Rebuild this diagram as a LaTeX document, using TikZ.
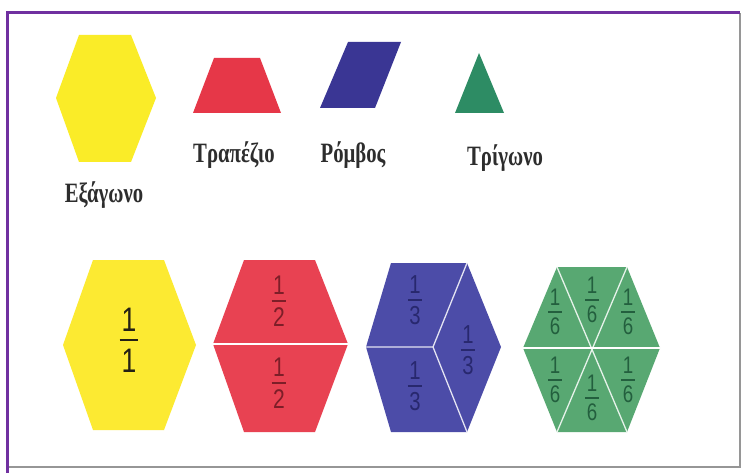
\documentclass[tikz,border=0pt]{standalone}
\usepackage{fontspec}
\usepackage{graphicx}
\setmainfont{Liberation Serif}
\newfontfamily\digitfont{Liberation Sans}
\definecolor{framepurple}{RGB}{112,48,160}
\definecolor{framegrey}{RGB}{150,150,150}
\definecolor{ytop}{RGB}{250,236,40}
\definecolor{rtop}{RGB}{230,55,72}
\definecolor{btop}{RGB}{58,54,148}
\definecolor{gtop}{RGB}{45,140,100}
\definecolor{ybot}{RGB}{252,234,50}
\definecolor{rbot}{RGB}{232,66,82}
\definecolor{bbot}{RGB}{76,76,168}
\definecolor{gbot}{RGB}{88,168,114}
\definecolor{ytxt}{RGB}{35,32,20}
\definecolor{rtxt}{RGB}{125,30,40}
\definecolor{btxt}{RGB}{40,40,110}
\definecolor{gtxt}{RGB}{35,95,62}
\definecolor{labeltxt}{RGB}{45,45,45}
\tikzset{
  digit/.style={inner sep=0pt, font=\digitfont\fontsize{20}{20}\selectfont},
  shapelabel/.style={anchor=base, inner sep=0pt, text=labeltxt,
    font=\bfseries\fontsize{28}{28}\selectfont},
  seam/.style={white, line width=1.3pt},
}
\newcommand{\fr}[6]{%
  \begin{scope}[shift={(#2,#3)}, scale=#4, xscale=0.78, transform shape]
    \node[digit, text=#6] (#1n) at (0,12) {1};
    \node[digit, text=#6] (#1d) at (0,-12) {#5};
    \draw[#6, line width=#4*1.5pt] (-7,0) -- (7,0);
  \end{scope}}
\newcommand{\lbl}[4]{\node[shapelabel] (#1) at (#2,#3) {\scalebox{0.74}[1]{#4}};}
\begin{document}
\begin{tikzpicture}[x=1pt,y=1pt]
\useasboundingbox (0,0) rectangle (746,-473);
\fill[white] (0,0) rectangle (746,-473);
% frame
\draw[framegrey, line width=1.5pt] (7,-467) -- (740,-467) -- (740,-13);
\draw[framepurple, line width=3pt] (7,-473) -- (7,-13) -- (740,-13);
% top row shapes
\fill[ytop] (79,-35) -- (131,-35) -- (156,-98) -- (131,-162) -- (79,-162) -- (56,-98) -- cycle;
\fill[rtop] (214,-58) -- (260,-58) -- (281,-113) -- (193,-113) -- cycle;
\fill[btop] (348,-42) -- (401,-42) -- (375,-108) -- (320,-108) -- cycle;
\fill[gtop] (479,-53) -- (504,-113) -- (455,-113) -- cycle;
% labels
\lbl{lhex}{104}{-202}{Εξάγωνο}
\lbl{ltrap}{234}{-163}{Τραπέζιο}
\lbl{lrhomb}{353}{-163}{Ρόμβος}
\lbl{ltri}{505}{-165}{Τρίγωνο}
% bottom row: yellow hexagon
\fill[ybot] (93,-260) -- (164,-260) -- (196,-345) -- (164,-430) -- (93,-430) -- (63,-345) -- cycle;
\fr{y1}{129}{-340}{1.7}{1}{ytxt}
% red hexagon (two trapezoids)
\fill[rbot] (244,-260) -- (315,-260) -- (348,-344) -- (315,-432) -- (244,-432) -- (213,-344) -- cycle;
\draw[white, line width=2pt] (213,-344) -- (348,-344);
\fr{r1}{279}{-301}{1.35}{2}{rtxt}
\fr{r2}{279}{-383}{1.35}{2}{rtxt}
% blue hexagon (three rhombi)
\fill[bbot] (391,-263) -- (467,-263) -- (501,-347) -- (467,-432) -- (391,-432) -- (366,-347) -- cycle;
\draw[seam, white!85!bbot] (366,-347) -- (433,-347) -- (467,-263);
\draw[seam, white!85!bbot] (433,-347) -- (467,-432);
\fr{b1}{415}{-300}{1.3}{3}{btxt}
\fr{b2}{468}{-350}{1.3}{3}{btxt}
\fr{b3}{415}{-386}{1.3}{3}{btxt}
% green hexagon (six triangles)
\fill[gbot] (557,-267) -- (627,-267) -- (660,-348) -- (627,-432) -- (557,-432) -- (523,-348) -- cycle;
\draw[seam, white!85!gbot] (557,-267) -- (627,-432);
\draw[seam, white!85!gbot] (627,-267) -- (557,-432);
\draw[white, line width=1.6pt] (523,-348) -- (660,-348);
\fr{g1}{555}{-312}{1.2}{6}{gtxt}
\fr{g2}{592}{-300}{1.2}{6}{gtxt}
\fr{g3}{628}{-312}{1.2}{6}{gtxt}
\fr{g4}{555}{-380}{1.2}{6}{gtxt}
\fr{g5}{592}{-398}{1.2}{6}{gtxt}
\fr{g6}{628}{-380}{1.2}{6}{gtxt}
\end{tikzpicture}
\end{document}
